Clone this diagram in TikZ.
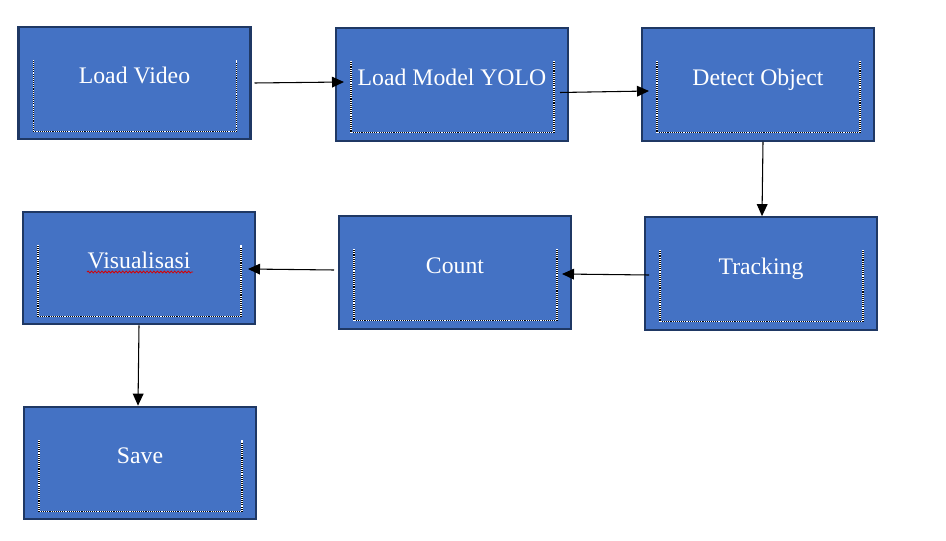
\documentclass[tikz,border=0pt]{standalone}
\usepackage{fontspec}
\setmainfont{Liberation Serif}
\usetikzlibrary{arrows.meta,decorations.pathmorphing}
\definecolor{boxfill}{HTML}{4472C4}
\definecolor{boxline}{HTML}{1F3864}
\begin{document}
\begin{tikzpicture}[x=0.75pt,y=-0.75pt,
  flowbox/.style={draw=boxline,fill=boxfill,line width=1.6pt,minimum width=174pt,minimum height=84.5pt,inner sep=0pt,outer sep=0pt},
  boxtext/.style={anchor=base,text=white,font=\fontsize{17.8}{20}\selectfont,inner sep=0pt},
  dotback/.style={draw=black,line width=0.8pt},
  dotfront/.style={draw=white,line width=0.8pt,dash pattern=on 0.8pt off 0.8pt},
  arr/.style={draw=black,line width=0.8pt,-{Triangle[length=9pt,width=8pt]}},
  wavy/.style={draw=red!85!black,line width=0.6pt,decorate,decoration={snake,amplitude=0.7pt,segment length=2.6pt}}]
\useasboundingbox (0,0) rectangle (946,541);
\newcommand\innerdots[1]{%
  \foreach \st in {dotback,dotfront}{%
  \draw[\st] ([shift={(15,33)}]#1.north west) -- ([shift={(15,-8)}]#1.south west) -- ([shift={(-14,-8)}]#1.south east) -- ([shift={(-14,33)}]#1.north east);}}
% boxes
\node[flowbox] (b1) at (134.5,83) {};
\node[flowbox] (b2) at (452,84.5) {};
\node[flowbox] (b3) at (758,84.5) {};
\node[flowbox] (b4) at (761,273.5) {};
\node[flowbox] (b5) at (455,272.5) {};
\node[flowbox] (b6) at (139,268) {};
\node[flowbox] (b7) at (140,463) {};
\foreach \b in {b1,b2,b3,b4,b5,b6,b7}{\innerdots{\b}}
% texts
\node[boxtext] (t1) at ([shift={(0,1)}]b1.center) {Load Video};
\node[boxtext] (t2) at ([shift={(0,1)}]b2.center) {Load Model YOLO};
\node[boxtext] (t3) at ([shift={(0,1)}]b3.center) {Detect Object};
\node[boxtext] (t4) at ([shift={(0,1)}]b4.center) {Tracking};
\node[boxtext] (t5) at ([shift={(0,1)}]b5.center) {Count};
\node[boxtext] (t6) at ([shift={(0,1)}]b6.center) {Visualisasi};
\node[boxtext] (t7) at ([shift={(0,1)}]b7.center) {Save};
\draw[wavy] ([shift={(-52,4)}]b6.center) -- ([shift={(54,4)}]b6.center);
% arrows
\draw[arr] ([shift={(4,0)}]b1.east) -- ([shift={(8,-2.5)}]b2.west);
\draw[arr] ([shift={(-8,8)}]b2.east) -- ([shift={(7,6.5)}]b3.west);
\draw[arr] ([shift={(5,1)}]b3.south) -- ([shift={(1,-1)}]b4.north);
\draw[arr] ([shift={(4,1.5)}]b4.west) -- ([shift={(-9,1.5)}]b5.east);
\draw[arr] ([shift={(-5,-2.5)}]b5.west) -- ([shift={(-7,1)}]b6.east);
\draw[arr] ([shift={(0,1)}]b6.south) -- ([shift={(-2,-1)}]b7.north);
\end{tikzpicture}
\end{document}
